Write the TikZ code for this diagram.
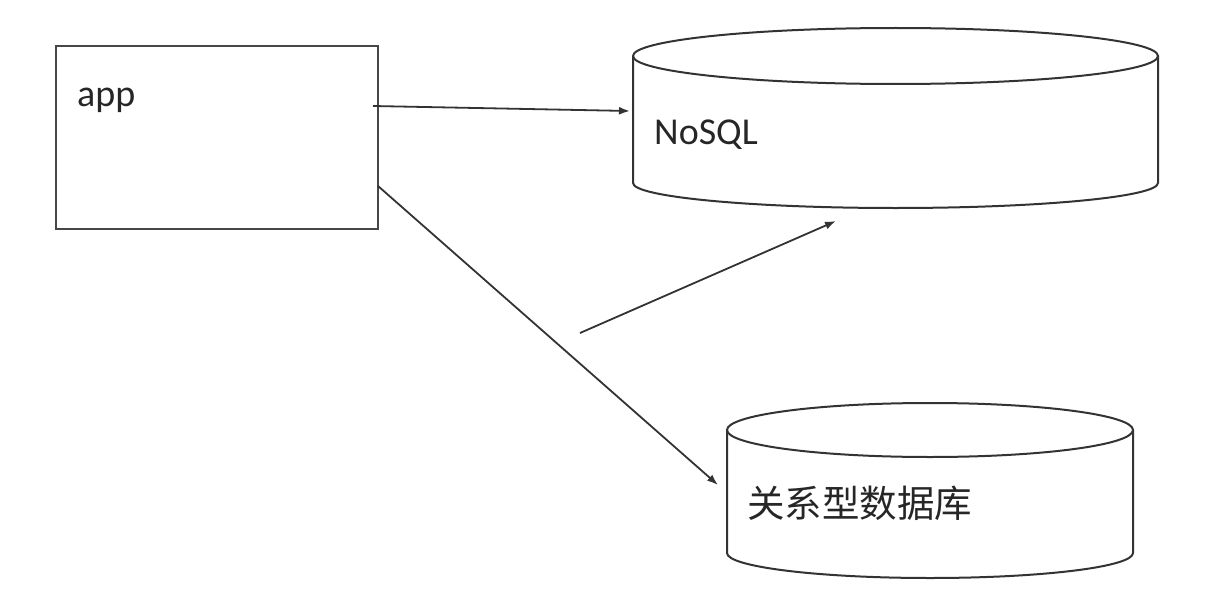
\documentclass[tikz,border=0pt]{standalone}
\usepackage{fontspec}
\setmainfont{Carlito}
\newfontfamily\cjk{Noto Sans CJK SC}
\usetikzlibrary{arrows.meta}
\definecolor{ln}{HTML}{333333}
\begin{document}
\begin{tikzpicture}[x=1pt,y=-1pt,
  boxst/.style={draw=ln!90, line width=2.4pt, minimum width=322pt, minimum height=183pt, anchor=north west, inner sep=0pt},
  cyl/.style={draw=ln, line width=2pt},
  lbl/.style={font=\fontsize{38}{42}\selectfont, text=black!85, anchor=west, inner sep=0pt},
  arr/.style={draw=ln, line width=1.8pt, -{Latex[length=11pt,width=8pt]}}]
\useasboundingbox (0,0) rectangle (1210,602);
% app box
\node[boxst] (app) at (55,45) {};
\node[lbl] (apptext) at (77,100) {app};
% NoSQL cylinder
\node[inner sep=0pt, minimum width=525pt, minimum height=180pt, anchor=north west] (nosql) at (633,28) {};
\draw[cyl] (633,56) -- (633,183) arc[start angle=180,delta angle=-180,x radius=262.5,y radius=25] -- (1158,56);
\draw[cyl] (895.5,56) ellipse[x radius=262.5, y radius=28];
\node[lbl] (nosqltext) at (654,135) {NoSQL};
% relational DB cylinder
\node[inner sep=0pt, minimum width=406pt, minimum height=175pt, anchor=north west] (rdb) at (727,403) {};
\draw[cyl] (727,430) -- (727,553) arc[start angle=180,delta angle=-180,x radius=203,y radius=25] -- (1133,430);
\draw[cyl] (930,430) ellipse[x radius=203, y radius=27];
\node[lbl, font=\cjk\fontsize{37.5}{40}\selectfont] (rdbtext) at (747,503) {关系型数据库};
% connectors
\coordinate (a1s) at (373,106);
\coordinate (a1e) at (630,111);
\coordinate (a2s) at (378,186);
\coordinate (a2e) at (718,485);
\coordinate (a3s) at (580,333);
\coordinate (a3e) at (836,221);
\draw[arr] (a1s) -- (a1e);
\draw[arr] (a2s) -- (a2e);
\draw[arr] (a3s) -- (a3e);
\end{tikzpicture}
\end{document}
